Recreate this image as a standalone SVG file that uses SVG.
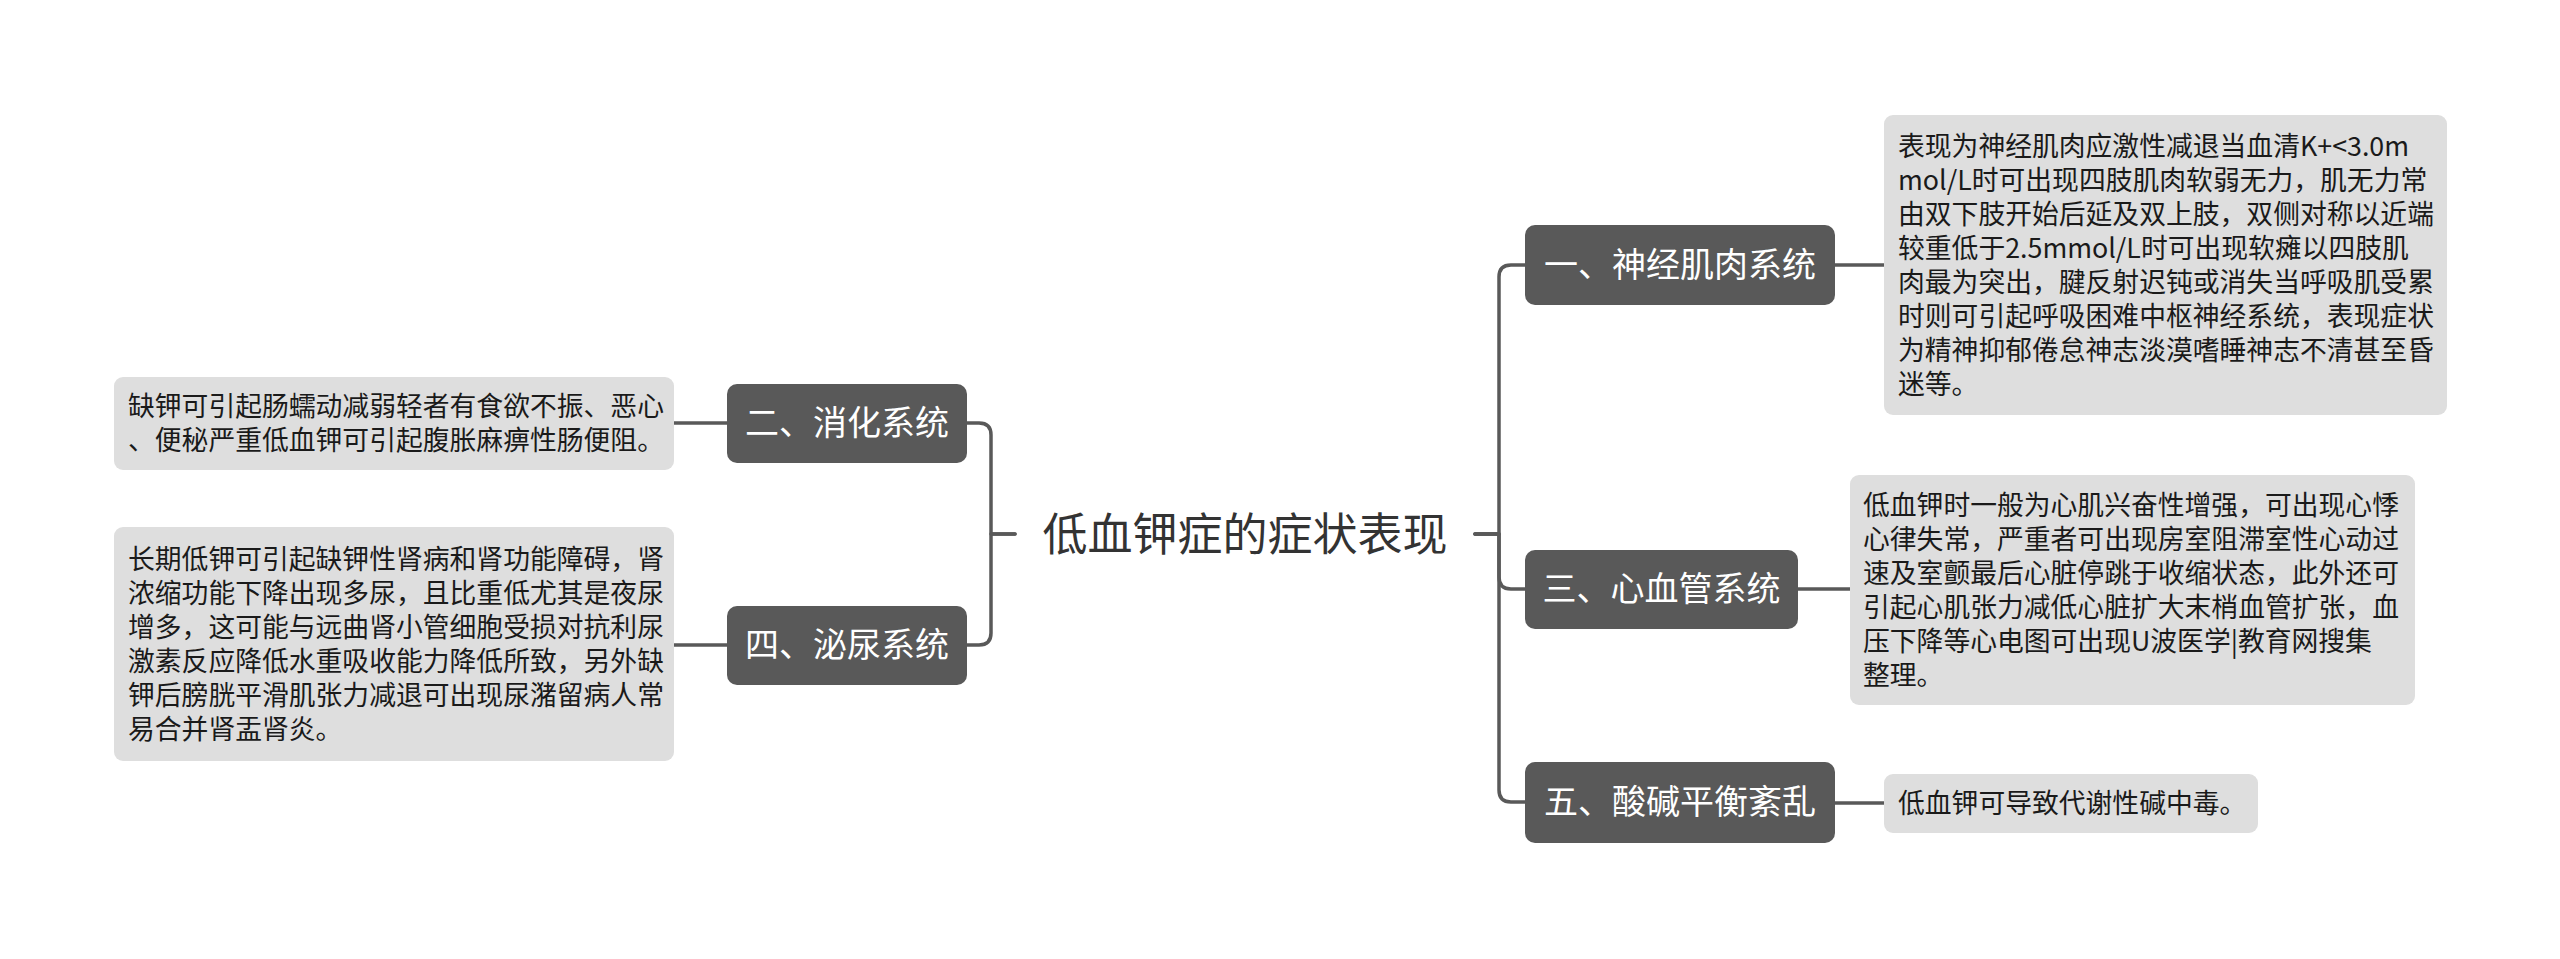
<svg xmlns="http://www.w3.org/2000/svg" width="2560" height="959" viewBox="0 0 2560 959">
<style>
.bg{fill:#ffffff}
.conn{fill:none;stroke:#595959;stroke-width:3.5;stroke-linecap:round;stroke-linejoin:round}
.node rect{fill:#595959}
.node text{fill:#ffffff;font-family:"Noto Sans CJK SC","Noto Sans",sans-serif;font-size:34px;text-anchor:middle}
.det rect{fill:#dedede}
.det text{fill:#1a1a1a;font-family:"Noto Sans CJK SC","Noto Sans",sans-serif;font-size:26.8px}
.root text{fill:#333333;font-family:"Noto Sans CJK SC","Noto Sans",sans-serif;font-size:45px;text-anchor:middle}
</style>
<rect class="bg" x="0" y="0" width="2560" height="959"/>
<g id="connectors">
<path class="conn" d="M1475,534 H1499 V277 Q1499,265 1511,265 H1525"/>
<path class="conn" d="M1475,534 H1499 V577 Q1499,589 1511,589 H1525"/>
<path class="conn" d="M1475,534 H1499 V790 Q1499,802 1511,802 H1525"/>
<path class="conn" d="M1015,534 H991 V435 Q991,423 979,423 H967"/>
<path class="conn" d="M1015,534 H991 V633 Q991,645 979,645 H967"/>
<path class="conn" d="M1835,265 H1884"/>
<path class="conn" d="M1798,589 H1850"/>
<path class="conn" d="M1834,803 H1884"/>
<path class="conn" d="M727,423 H674"/>
<path class="conn" d="M727,645 H674"/>
</g>
<g id="root" class="root">
<text x="1245" y="551">低血钾症的症状表现</text>
</g>
<g id="n1" class="node">
<rect x="1525" y="225" width="310" height="80" rx="10"/>
<text x="1680" y="277">一、神经肌肉系统</text>
</g>
<g id="n3" class="node">
<rect x="1525" y="550" width="273" height="79" rx="10"/>
<text x="1661.5" y="601">三、心血管系统</text>
</g>
<g id="n5" class="node">
<rect x="1525" y="762" width="310" height="81" rx="10"/>
<text x="1680" y="814">五、酸碱平衡紊乱</text>
</g>
<g id="n2" class="node">
<rect x="727" y="384" width="240" height="79" rx="10"/>
<text x="847" y="435">二、消化系统</text>
</g>
<g id="n4" class="node">
<rect x="727" y="606" width="240" height="79" rx="10"/>
<text x="847" y="657">四、泌尿系统</text>
</g>
<g id="d1" class="det">
<rect x="1884" y="115" width="563" height="300" rx="9"/>
<text x="1898" y="156">表现为神经肌肉应激性减退当血清K+&lt;3.0m</text>
<text x="1898" y="190">mol/L时可出现四肢肌肉软弱无力，肌无力常</text>
<text x="1898" y="224">由双下肢开始后延及双上肢，双侧对称以近端</text>
<text x="1898" y="258">较重低于2.5mmol/L时可出现软瘫以四肢肌</text>
<text x="1898" y="292">肉最为突出，腱反射迟钝或消失当呼吸肌受累</text>
<text x="1898" y="326">时则可引起呼吸困难中枢神经系统，表现症状</text>
<text x="1898" y="360">为精神抑郁倦怠神志淡漠嗜睡神志不清甚至昏</text>
<text x="1898" y="394">迷等。</text>
</g>
<g id="d3" class="det">
<rect x="1850" y="475" width="565" height="230" rx="9"/>
<text x="1863" y="515">低血钾时一般为心肌兴奋性增强，可出现心悸</text>
<text x="1863" y="549">心律失常，严重者可出现房室阻滞室性心动过</text>
<text x="1863" y="583">速及室颤最后心脏停跳于收缩状态，此外还可</text>
<text x="1863" y="617">引起心肌张力减低心脏扩大末梢血管扩张，血</text>
<text x="1863" y="651">压下降等心电图可出现U波医学|教育网搜集</text>
<text x="1863" y="685">整理。</text>
</g>
<g id="d5" class="det">
<rect x="1884" y="774" width="374" height="59" rx="9"/>
<text x="1898" y="813">低血钾可导致代谢性碱中毒。</text>
</g>
<g id="d2" class="det">
<rect x="114" y="377" width="560" height="93" rx="9"/>
<text x="128" y="416">缺钾可引起肠蠕动减弱轻者有食欲不振、恶心</text>
<text x="128" y="450">、便秘严重低血钾可引起腹胀麻痹性肠便阻。</text>
</g>
<g id="d4" class="det">
<rect x="114" y="527" width="560" height="234" rx="9"/>
<text x="128" y="569">长期低钾可引起缺钾性肾病和肾功能障碍，肾</text>
<text x="128" y="603">浓缩功能下降出现多尿，且比重低尤其是夜尿</text>
<text x="128" y="637">增多，这可能与远曲肾小管细胞受损对抗利尿</text>
<text x="128" y="671">激素反应降低水重吸收能力降低所致，另外缺</text>
<text x="128" y="705">钾后膀胱平滑肌张力减退可出现尿潴留病人常</text>
<text x="128" y="739">易合并肾盂肾炎。</text>
</g>
</svg>
